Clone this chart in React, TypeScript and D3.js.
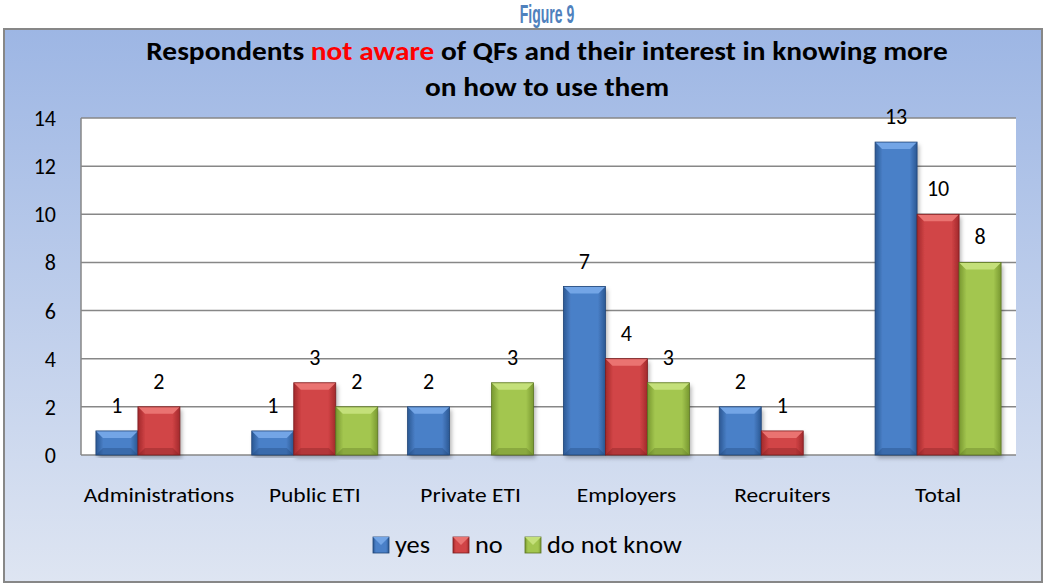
import React from "react";
import * as d3 from "d3";

const categories = ["Administrations", "Public ETI", "Private ETI", "Employers", "Recruiters", "Total"];
const seriesNames = ["yes", "no", "do not know"];
const yesValues = [1, 1, 2, 7, 2, 13];
const noValues = [2, 3, 0, 4, 1, 10];
const dnkValues = [0, 2, 3, 3, 0, 8];
const yTicks = [0, 2, 4, 6, 8, 10, 12, 14];

const palettes = [
  { mid: "#4a80c8", edge: "#2b5893", top: "#73a5e6", dark: "#1f4477" },
  { mid: "#d14446", edge: "#a2292b", top: "#ea7371", dark: "#7c1d1f" },
  { mid: "#a3c64f", edge: "#789830", top: "#c4e07a", dark: "#5b7422" },
];

const W = 1045, H = 585;
const plot = { left: 81, right: 1016, top: 118, bottom: 455 };
const FONT = "Carlito, Calibri, Lato, sans-serif";

export default function App() {
  const x = d3.scaleBand<string>().domain(categories).range([plot.left, plot.right]).paddingInner(0).paddingOuter(0);
  const y = d3.scaleLinear().domain([0, 14]).range([plot.bottom, plot.top]);
  const all = [yesValues, noValues, dnkValues];
  const barW = 42;
  const bev = 7;

  return (
    <div style={{ position: "absolute", left: 0, top: 0 }}>
      <svg width={W} height={H} style={{ display: "block" }}>
        <defs>
          <linearGradient id="bg" x1="0" y1="0" x2="0" y2="1">
            <stop offset="0" stopColor="#9db6e4" />
            <stop offset="1" stopColor="#dee5f2" />
          </linearGradient>
          {palettes.map((p, i) => (
            <linearGradient key={i} id={`bar${i}`} x1="0" y1="0" x2="1" y2="0">
              <stop offset="0" stopColor={p.edge} />
              <stop offset="0.18" stopColor={p.mid} />
              <stop offset="0.82" stopColor={p.mid} />
              <stop offset="1" stopColor={p.edge} />
            </linearGradient>
          ))}
          <filter id="sh" x="-20%" y="-5%" width="140%" height="115%">
            <feDropShadow dx="2" dy="3" stdDeviation="2" floodColor="#000" floodOpacity="0.3" />
          </filter>
        </defs>
        <g transform="translate(547,23) scale(0.56,1)">
          <text x={0} y={0} textAnchor="middle" fontFamily="'Liberation Sans', Arial, sans-serif" fontWeight="bold" fontSize={25} fill="#4f81bd">Figure 9</text>
        </g>
        <rect x={4} y={29} width={1038} height={553} fill="url(#bg)" stroke="#878787" strokeWidth={2} />
        <g transform="translate(547,60) scale(1.13,1)">
          <text x={0} y={0} textAnchor="middle" fontFamily={FONT} fontWeight="bold" fontSize={26} fill="#000">
            Respondents <tspan fill="#ff0000">not aware</tspan> of QFs and their interest in knowing more
          </text>
        </g>
        <g transform="translate(547,96) scale(1.13,1)">
          <text x={0} y={0} textAnchor="middle" fontFamily={FONT} fontWeight="bold" fontSize={26} fill="#000">on how to use them</text>
        </g>
        <rect x={plot.left} y={plot.top} width={plot.right - plot.left} height={plot.bottom - plot.top} fill="#ffffff" />
        {yTicks.map((t) => (
          <g key={t}>
            <line x1={plot.left} x2={plot.right} y1={y(t)} y2={y(t)} stroke="#878787" strokeWidth={1.5} />
            <text x={56} y={y(t) + 8} textAnchor="end" fontFamily={FONT} fontSize={22} fill="#000">{t}</text>
          </g>
        ))}
        <line x1={plot.left} x2={plot.left} y1={plot.top} y2={plot.bottom} stroke="#878787" strokeWidth={1.5} />
        {categories.map((c, ci) => {
          const cx = (x(c) as number) + x.bandwidth() / 2;
          const x0 = cx - (barW * 3) / 2;
          return (
            <g key={c}>
              {all.map((vals, si) => {
                const v = vals[ci];
                if (!v) return null;
                const p = palettes[si];
                const bx = x0 + si * barW;
                const by = y(v);
                const bh = plot.bottom - by;
                return (
                  <g key={si}>
                    <rect x={bx} y={by} width={barW} height={bh} fill={`url(#bar${si})`} filter="url(#sh)" />
                    <polygon points={`${bx},${by} ${bx + barW},${by} ${bx + barW - bev},${by + bev} ${bx + bev},${by + bev}`} fill={p.top} />
                    <polygon points={`${bx},${plot.bottom} ${bx + barW},${plot.bottom} ${bx + barW - bev},${plot.bottom - bev} ${bx + bev},${plot.bottom - bev}`} fill={p.dark} opacity={0.35} />
                    <rect x={bx} y={by} width={barW} height={bh} fill="none" stroke={p.dark} strokeWidth={0.8} />
                    <text x={bx + barW / 2} y={by - 18} textAnchor="middle" fontFamily={FONT} fontSize={22} fill="#000">{v}</text>
                  </g>
                );
              })}
              <g transform={`translate(${cx},502) scale(1.12,1)`}>
                <text x={0} y={0} textAnchor="middle" fontFamily={FONT} fontSize={21} fill="#000">{c}</text>
              </g>
            </g>
          );
        })}
        {(() => {
          const items = [
            { x: 373, label: seriesNames[0] },
            { x: 453, label: seriesNames[1] },
            { x: 525, label: seriesNames[2] },
          ];
          return items.map((it, i) => (
            <g key={i}>
              <rect x={it.x} y={537} width={16} height={16} fill={`url(#bar${i})`} stroke={palettes[i].dark} strokeWidth={0.8} />
              <polygon points={`${it.x},537 ${it.x + 16},537 ${it.x + 8},545`} fill={palettes[i].top} />
              <g transform={`translate(${it.x + 22},553) scale(1.1,1)`}>
                <text x={0} y={0} fontFamily={FONT} fontSize={24} fill="#000">{it.label}</text>
              </g>
            </g>
          ));
        })()}
      </svg>
    </div>
  );
}
